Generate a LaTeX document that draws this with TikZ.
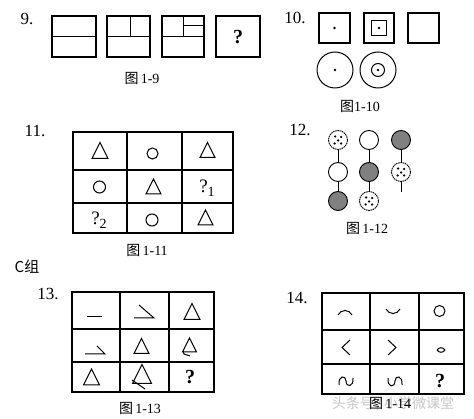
\documentclass[tikz,border=0pt]{standalone}
\usepackage{fontspec}
\setmainfont{Liberation Serif}
\newfontfamily\cjk{Noto Sans CJK SC}
\newcommand\trian[3]{\draw[ln] ({#1-#3},{#2+#3}) -- (#1,{#2-#3}) -- ({#1+#3},{#2+#3}) -- cycle;}
\newcommand\dicedots[1]{\foreach \dx/\dy in {-3/-3.5,3/-3,0/0.5,-3.5/3.5,3/3.5} \fill ([shift={(\dx,\dy)}]#1) circle (1.25);}
\begin{document}
\begin{tikzpicture}[x=1pt,y=-1pt,
  frame/.style={draw,line width=1.2pt},
  ln/.style={line width=1pt},
  num/.style={font=\fontsize{17}{17}\selectfont},
  captxt/.style={font=\fontsize{14}{14}\selectfont},
  qm/.style={font=\fontsize{20}{20}\selectfont\bfseries},
  qs/.style={font=\fontsize{19}{19}\selectfont},
  ball/.style={circle,draw,line width=0.9pt,minimum size=19pt,inner sep=0pt,fill=white},
  grayball/.style={ball,fill=black!50},
  dotball/.style={ball,dash pattern=on 1.6pt off 0.7pt},
  stem/.style={line width=1pt}
]
\useasboundingbox (0,0) rectangle (474,419);
\fill[white] (0,0) rectangle (474,419);

% ---------- 9 ----------
\node[num] (n9) at (27,19) {9.};
\draw[frame] (52,16) rectangle (96,57);
\draw[ln] (52,37) -- (96,37);
\draw[frame] (107,16) rectangle (150,57);
\draw[ln] (107,37) -- (150,37) (130,16) -- (130,37);
\draw[frame] (162,16) rectangle (204,57);
\draw[ln] (162,37) -- (204,37) (183,16) -- (183,37) (183,26) -- (204,26);
\draw[frame] (216,16) rectangle (260,57);
\node[qm] (q9) at (238,37) {?};
\node[captxt] (c9) at (142,78) {{\cjk 图}\,1-9};

% ---------- 10 ----------
\node[num] (n10) at (295,18) {10.};
\draw[frame] (319,13) rectangle (350,43);
\fill (334.5,28) circle (1.4);
\draw[frame] (364,13) rectangle (394,43);
\draw[ln] (371.5,20.5) rectangle (386.5,35.5);
\fill (379,28) circle (1.4);
\draw[frame] (408,13) rectangle (439,43);
\draw[ln] (335,70) circle (18);
\fill (335,70) circle (1.4);
\draw[ln] (378,70) circle (18);
\draw[ln] (378,70) circle (6.5);
\fill (378,70) circle (1.4);
\node[captxt] (c10) at (360,106) {{\cjk 图}1-10};

% ---------- 11 ----------
\node[num] (n11) at (35,131) {11.};
\draw[frame] (73,132) rectangle (233,233);
\draw[frame] (127,132) -- (127,233) (182,132) -- (182,233) (73,170) -- (233,170) (73,203) -- (233,203);
\trian{100}{150.5}{8}
\draw[ln] (152.5,153.5) circle (5.5);
\trian{207.5}{150}{7.5}
\draw[ln] (99.5,187) circle (6);
\trian{153.5}{186.5}{7.5}
\node[qs] (q11a) at (207,188) {?\raisebox{-4pt}{\fontsize{14}{14}\selectfont 1}};
\node[qs] (q11b) at (99,220) {?\raisebox{-4pt}{\fontsize{14}{14}\selectfont 2}};
\draw[ln] (152,220) circle (6);
\trian{205.5}{217.5}{7.5}
\node[captxt] (c11) at (147,250) {{\cjk 图}\,1-11};

% ---------- 12 ----------
\node[num] (n12) at (300,130) {12.};
\node[dotball] (a1) at (338,140) {};
\node[ball] (a2) at (338,172) {};
\node[grayball] (a3) at (338,201) {};
\node[ball] (b1) at (369,140) {};
\node[grayball] (b2) at (369,172) {};
\node[dotball] (b3) at (369,201) {};
\node[grayball] (c1) at (401,140) {};
\node[dotball] (c2) at (401,172) {};
\coordinate (c3) at (401,192);
\dicedots{a1}
\dicedots{b3}
\dicedots{c2}
\draw[stem] (a1) -- (a2);
\draw[stem] (a2) -- (a3);
\draw[stem] (b1) -- (b2);
\draw[stem] (b2) -- (b3);
\draw[stem] (c1) -- (c2);
\draw[stem] (c2) -- (c3);
\node[captxt] (c12) at (367,228) {{\cjk 图}\,1-12};

% ---------- C group ----------
\node[font=\cjk\fontsize{15}{15}\selectfont] (cg) at (27,267) {C组};

% ---------- 13 ----------
\node[num] (n13) at (48,294) {13.};
\draw[frame] (72,292) rectangle (214,392);
\draw[frame] (120,292) -- (120,392) (169,292) -- (169,392) (72,329) -- (214,329) (72,362) -- (214,362);
\draw[ln] (87,317) -- (102,317);
\draw[ln] (134,318) -- (154,318) -- (139,305);
\trian{192}{311.5}{8}
\draw[ln] (85,354) -- (105,354) -- (97,346);
\trian{141.5}{346}{7.5}
\trian{189.5}{345}{7}
\draw[ln] (183,351) -- (184,354) -- (190,356);
\trian{91.5}{377}{8}
\trian{142}{374}{9.5}
\draw[ln] (132,380) -- (145,389);
\node[qm] (q13) at (190,377) {?};
\node[captxt] (c13) at (140,408) {{\cjk 图}\,1-13};

% ---------- 14 ----------
\node[num] (n14) at (297,298) {14.};
\draw[frame] (322,293) rectangle (464,394);
\draw[frame] (370,293) -- (370,394) (419,293) -- (419,394) (322,330) -- (464,330) (322,364) -- (464,364);
\draw[ln] (338,315) .. controls (341,309) and (349,309) .. (352,315);
\draw[ln] (386,309) .. controls (389,315) and (397,315) .. (400,309);
\draw[ln] (439.5,311) circle (5.5);
\draw[ln] (350,340) -- (342,347.5) -- (350,355);
\draw[ln] (388,340) -- (396,347.5) -- (388,355);
\draw[ln] (437,350) .. controls (439,347) and (443,347) .. (445,350) .. controls (443,353) and (439,353) .. (437,350);
\draw[ln] (339,385) .. controls (338,375) and (346,375) .. (346,381) .. controls (346,388) and (354,387) .. (353,378);
\draw[ln] (388,378) .. controls (387,388) and (395,388) .. (395,381) .. controls (395,375) and (403,375) .. (402,385);
\node[qm] (q14) at (440,381) {?};
\node[font=\cjk\fontsize{14}{14}\selectfont, text=black!22] (wm) at (393,404) {头条号\,/\,小学微课堂};
\node[captxt] (c14) at (390,403) {{\cjk 图}\,1-14};
\end{tikzpicture}
\end{document}
